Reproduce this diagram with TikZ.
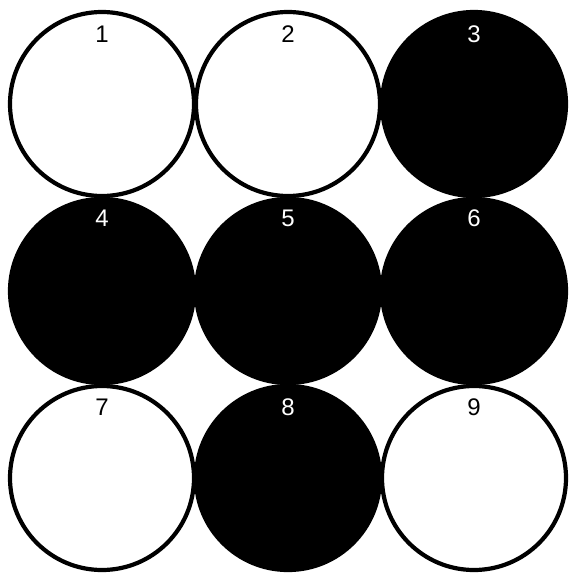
\documentclass[tikz,border=0pt]{standalone}
\usepackage{fontspec}
\setmainfont{Liberation Sans}
\begin{document}
\begin{tikzpicture}[x=1pt,y=-1pt,
  disc/.style={circle,draw=black,line width=4.2pt,minimum size=184pt,inner sep=0pt},
  white/.style={disc,fill=white},
  black/.style={disc,fill=black},
  lab/.style={font=\fontsize{24}{24}\selectfont,anchor=center}]
\useasboundingbox (0,0) rectangle (568,575);
\node[white] (c1) at (102,104) {};
\node[white] (c2) at (288,104) {};
\node[black] (c3) at (474,104) {};
\node[black] (c4) at (102,291) {};
\node[black] (c5) at (288,291) {};
\node[black] (c6) at (474,291) {};
\node[white] (c7) at (102,478) {};
\node[black] (c8) at (288,478) {};
\node[white] (c9) at (474,478) {};
\node[lab,text=black] (l1) at ([yshift=-24pt]c1.north) {1};
\node[lab,text=black] (l2) at ([yshift=-24pt]c2.north) {2};
\node[lab,text=white] (l3) at ([yshift=-24pt]c3.north) {3};
\node[lab,text=white] (l4) at ([yshift=-21pt]c4.north) {4};
\node[lab,text=white] (l5) at ([yshift=-21pt]c5.north) {5};
\node[lab,text=white] (l6) at ([yshift=-21pt]c6.north) {6};
\node[lab,text=black] (l7) at ([yshift=-23pt]c7.north) {7};
\node[lab,text=white] (l8) at ([yshift=-23pt]c8.north) {8};
\node[lab,text=black] (l9) at ([yshift=-23pt]c9.north) {9};
\end{tikzpicture}
\end{document}
